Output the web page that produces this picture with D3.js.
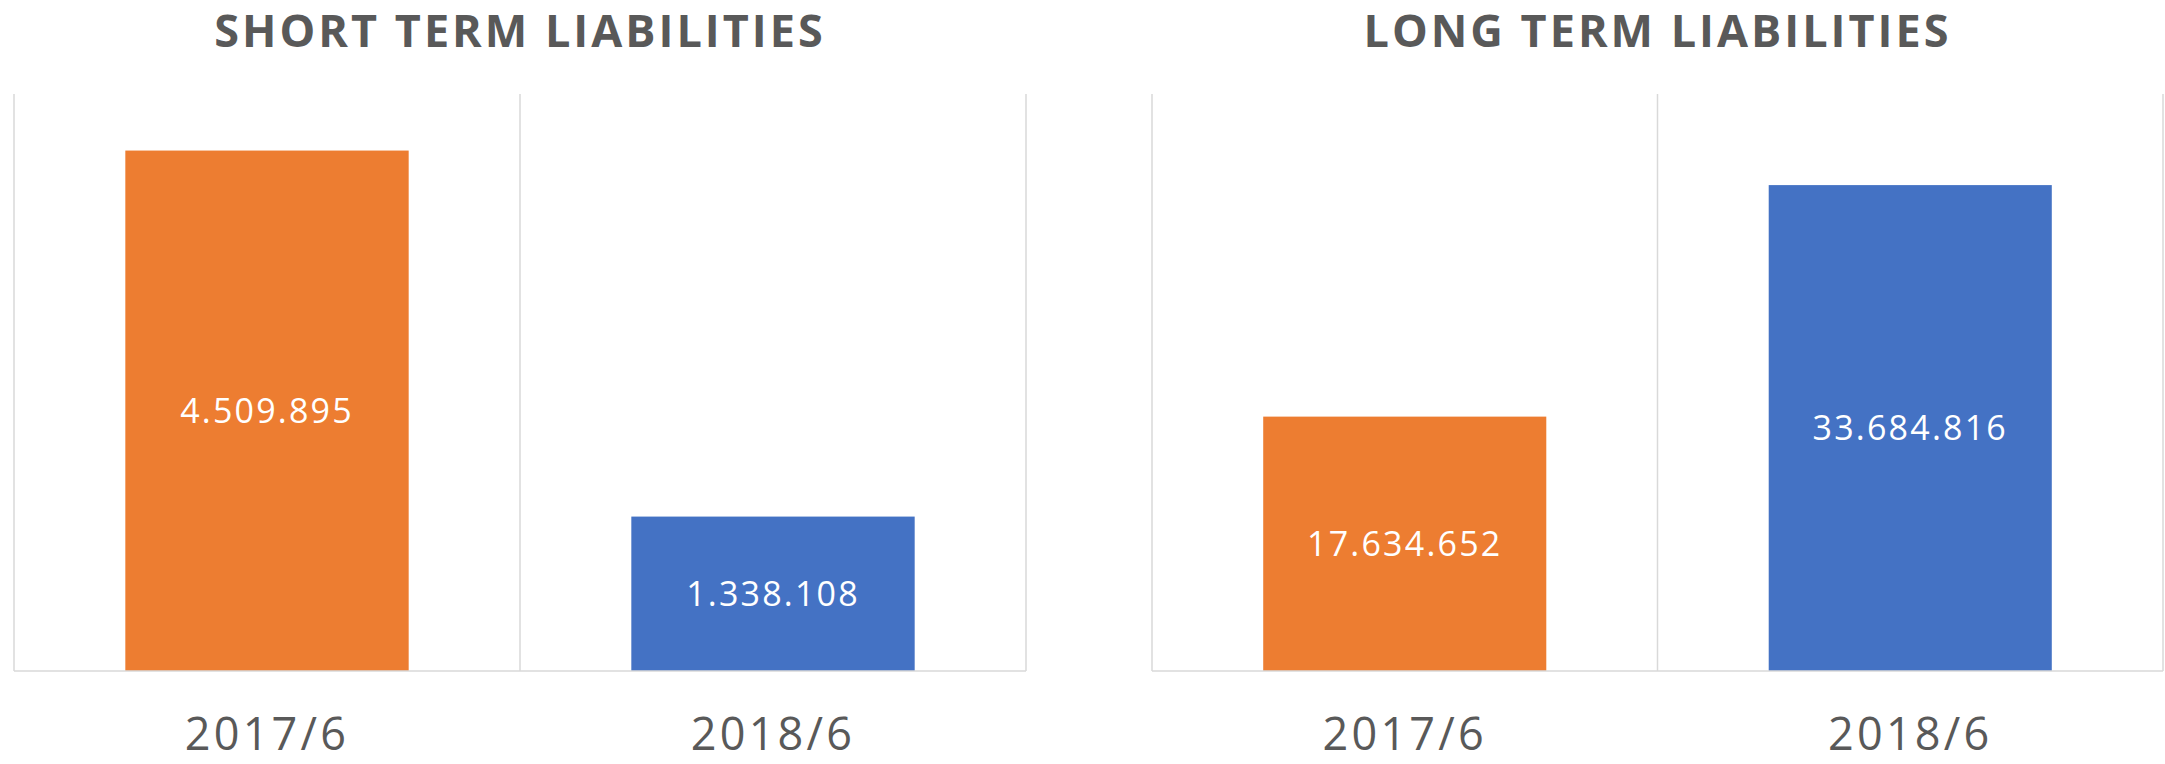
<!DOCTYPE html>
<html>
<head>
<meta charset="utf-8">
<script src="https://cdn.jsdelivr.net/npm/d3@7"></script>
<style>
	body { margin: 0; background: #fff; }
	svg { display: block; font-family: "Open Sans", "Noto Sans", sans-serif; }
</style>
</head>
<body>
<svg id="chart" width="2165" height="764"></svg>
<script>
var categories = ["2017/6", "2018/6"],
	titles = ["SHORT TERM LIABILITIES", "LONG TERM LIABILITIES"],
	shortTerm = [4509895, 1338108],
	longTerm = [17634652, 33684816],
	axisMax = [5000000, 40000000],
	colors = ["#ED7D31", "#4472C4"];

var fmt = d3.formatLocale({decimal: ",", thousands: ".", grouping: [3], currency: ["", ""]}).format(",d");

var svg = d3.select("#chart");

var panels = [
	{title: titles[0], values: shortTerm, max: axisMax[0], left: 14, right: 1026},
	{title: titles[1], values: longTerm, max: axisMax[1], left: 1152, right: 2163}
];

var plotTop = 94, plotBottom = 671;

panels.forEach(function(p) {

	var data = categories.map((c, i) => ({cat: c, value: p.values[i], color: colors[i]}));

	var x = d3.scaleBand()
		.domain(categories)
		.range([p.left, p.right])
		.paddingInner(0.44)
		.paddingOuter(0.22)

	var y = d3.scaleLinear()
		.domain([0, p.max])
		.range([plotBottom, plotTop])

	var g = svg.append("g");

	// vertical grid lines at the category boundaries
	g.selectAll(".vline")
		.data(d3.range(categories.length + 1))
	.enter().append("line")
		.attr("x1", i => p.left + i * x.step())
		.attr("x2", i => p.left + i * x.step())
		.attr("y1", y.range()[1])
		.attr("y2", y(0))
		.attr("stroke", "#d9d9d9")
		.attr("stroke-width", 1.5)

	g.selectAll(".bar")
		.data(data)
	.enter().append("rect")
		.attr("x", d => x(d.cat))
		.attr("y", d => y(d.value))
		.attr("width", x.bandwidth())
		.attr("height", d => y(0) - y(d.value))
		.attr("fill", d => d.color)

	g.append("line")
		.attr("x1", p.left)
		.attr("x2", p.right)
		.attr("y1", y(0))
		.attr("y2", y(0))
		.attr("stroke", "#d9d9d9")
		.attr("stroke-width", 1.5)

	g.selectAll(".label")
		.data(data)
	.enter().append("text")
		.attr("x", d => x(d.cat) + x.bandwidth() / 2)
		.attr("y", d => (y(d.value) + y(0)) / 2 + 12)
		.attr("text-anchor", "middle")
		.attr("fill", "#fff")
		.style("font-size", "34px")
		.style("letter-spacing", "2.2px")
		.text(d => fmt(d.value))

	g.selectAll(".cat")
		.data(categories)
	.enter().append("text")
		.attr("x", d => x(d) + x.bandwidth() / 2)
		.attr("y", 750)
		.attr("text-anchor", "middle")
		.attr("fill", "#595959")
		.style("font-size", "45px")
		.style("letter-spacing", "3.2px")
		.text(d => d)

	g.append("text")
		.attr("x", (p.left + p.right) / 2)
		.attr("y", 47)
		.attr("text-anchor", "middle")
		.attr("fill", "#595959")
		.style("font-size", "45px")
		.style("font-weight", "bold")
		.style("letter-spacing", "3px")
		.text(p.title)
})
</script>
</body>
</html>
